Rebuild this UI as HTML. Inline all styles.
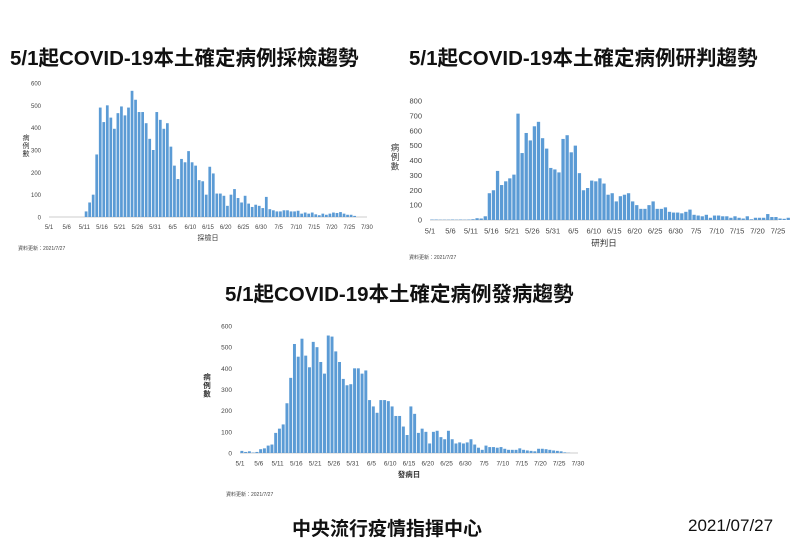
<!DOCTYPE html><html><head><meta charset="utf-8"><style>
body{margin:0;width:792px;height:560px;background:#fff;overflow:hidden;position:relative;font-family:"Liberation Sans","Noto Sans CJK TC",sans-serif}
.t{position:absolute;font-weight:bold;color:#111;white-space:nowrap}
</style></head><body>
<div class="t" style="left:10px;top:41px;font-size:20.5px">5/1起COVID-19本土確定病例採檢趨勢</div>
<div class="t" style="left:409px;top:41px;font-size:20.5px">5/1起COVID-19本土確定病例研判趨勢</div>
<div class="t" style="left:225px;top:277px;font-size:20.5px">5/1起COVID-19本土確定病例發病趨勢</div>
<div class="t" style="left:292px;top:514px;font-size:19px">中央流行疫情指揮中心</div>
<div class="t" style="left:688px;top:516px;font-size:17px;font-weight:normal">2021/07/27</div>
<svg id="s" width="792" height="560" style="position:absolute;left:0;top:0" font-family="Liberation Sans, Noto Sans CJK TC, sans-serif"></svg>
<script>
var S=document.getElementById('s'),h='';
function chart(o){
 var n=o.days, dx=(o.x1-o.x0)/n;
 h+='<line x1="'+o.x0+'" x2="'+(o.x0+dx*o.days)+'" y1="'+o.y0+'" y2="'+o.y0+'" stroke="#ccc" stroke-width="1"/>';
 for(var v=0;v<=o.max;v+=o.step){var y=o.y0-v/o.max*o.hgt;
  h+='<text x="'+(o.x0-8)+'" y="'+(y+2.5)+'" font-size="'+o.fs+'" text-anchor="end" fill="#444">'+v+'</text>';}
 for(var i=0;i<o.data.length;i++){var v=o.data[i];var bh=v/o.max*o.hgt;
  h+='<rect x="'+(o.x0+i*dx+0.4)+'" y="'+(o.y0-bh)+'" width="'+(dx-0.8)+'" height="'+bh+'" fill="#5b9bd5"/>';}
 var labs=['5/1','5/6','5/11','5/16','5/21','5/26','5/31','6/5','6/10','6/15','6/20','6/25','6/30','7/5','7/10','7/15','7/20','7/25','7/30'];
 for(var k=0;k<labs.length&&k*5<=o.days;k++){
  h+='<text x="'+(o.x0+k*5*dx)+'" y="'+(o.y0+o.fs+6)+'" font-size="'+o.fs+'" text-anchor="middle" fill="#444">'+labs[k]+'</text>';}
 h+='<text x="'+((o.x0+o.x1)/2)+'" y="'+(o.y0+o.fs*2+11)+'" font-size="'+(o.fs+1)+'" text-anchor="middle" fill="#333"'+(o.bold?' font-weight="bold"':'')+'>'+o.xl+'</text>';
 var yy=o.y0-o.hgt/2-10;['病','例','數'].forEach(function(c,j){h+='<text x="'+o.yx+'" y="'+(yy+j*(o.fs+2))+'" font-size="'+(o.fs+1)+'" text-anchor="middle" fill="#333"'+(o.bold?' font-weight="bold"':'')+'>'+c+'</text>';});
 h+='<text x="'+o.nx+'" y="'+o.ny+'" font-size="5" fill="#444">資料更新：2021/7/27</text>';
}
var z=function(k,v){var a=[];for(var i=0;i<k;i++)a.push(v);return a;};
chart({x0:49,x1:367,days:90,y0:217,hgt:134,max:600,step:100,fs:6,xl:'採檢日',yx:26,nx:18,ny:250,
data:z(10,0).concat([25,65,100,280,490,425,500,445,395,465,495,455,490,565,525,470,470,420,350,300,470,435,395,420,315,230,170,260,245,295,245,230,165,160,100,225,195,105,105,95,50,100,125,85,65,95,60,45,55,50,40,90,35,30,25,25,30,30,25,25,28,15,20,15,20,12,8,15,10,15,20,18,22,15,10,10,5])});
chart({x0:430,x1:778,days:85,y0:220,hgt:119,max:800,step:100,fs:7.5,xl:'研判日',yx:395,nx:409,ny:259,
data:[3,3,2,2,2,3,2,3,2,3,5,12,10,25,180,200,330,235,260,280,305,715,450,585,535,630,660,550,480,350,340,320,545,570,455,500,315,200,215,265,260,280,245,170,180,125,160,170,180,125,100,75,75,100,125,75,75,85,55,50,50,45,55,70,35,30,25,35,15,30,30,25,25,15,25,15,10,25,5,15,15,15,40,20,20,10,8,15]});
chart({x0:240,x1:578,days:90,y0:453,hgt:127,max:600,step:100,fs:6.5,xl:'發病日',bold:1,yx:207,nx:226,ny:496,
data:[10,5,8,2,5,18,22,35,40,95,115,135,235,355,515,455,540,460,405,525,500,430,375,555,550,480,430,350,320,325,400,400,375,390,250,220,190,250,250,245,220,175,175,125,85,220,185,95,115,100,45,100,105,75,65,105,65,45,50,45,50,65,40,25,15,35,28,28,25,28,20,15,15,15,22,15,12,10,8,20,20,18,15,12,10,8,3,1]});
S.innerHTML=h;
</script></body></html>
